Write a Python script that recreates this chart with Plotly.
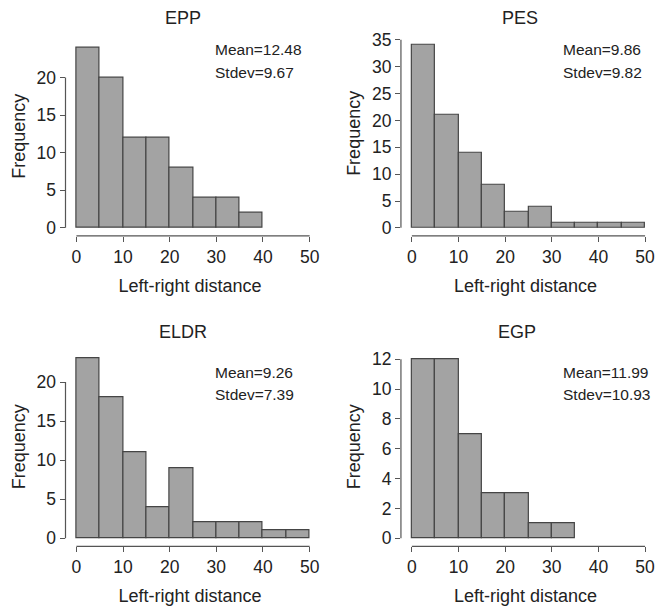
import plotly.graph_objects as go

W, H = 660, 608

bin_edges = [0, 5, 10, 15, 20, 25, 30, 35, 40, 45, 50]
titles = ["EPP", "PES", "ELDR", "EGP"]
counts_epp = [24, 20, 12, 12, 8, 4, 4, 2, 0, 0]
counts_pes = [34, 21, 14, 8, 3, 4, 1, 1, 1, 1]
counts_eldr = [23, 18, 11, 4, 9, 2, 2, 2, 1, 1]
counts_egp = [12, 12, 7, 3, 3, 1, 1, 0, 0, 0]
means = ["12.48", "9.86", "9.26", "11.99"]
stdevs = ["9.67", "9.82", "7.39", "10.93"]
yticks_epp = [0, 5, 10, 15, 20]
yticks_pes = [0, 5, 10, 15, 20, 25, 30, 35]
yticks_eldr = [0, 5, 10, 15, 20]
yticks_egp = [0, 2, 4, 6, 8, 10, 12]
xticks = [0, 10, 20, 30, 40, 50]

all_counts = [counts_epp, counts_pes, counts_eldr, counts_egp]
all_yticks = [yticks_epp, yticks_pes, yticks_eldr, yticks_egp]

# pixel geometry per panel: (px of x=0, px of x=50, py of y=0, py of top tick, L, R, T, B, annotation x, ann y1, ann y2, title x, title y)
geom = [
    (77, 312, 228, 77, 66, 317, 36, 236, 215, 49, 72, 184, 17),
    (415, 650, 228, 39, 404, 655, 30, 236, 565, 49, 72, 524, 17),
    (77, 312, 540, 383, 66, 317, 348, 548, 215, 373, 395, 184, 333),
    (415, 650, 540, 360, 404, 655, 348, 548, 565, 373, 395, 521, 333),
]

FONT = "Liberation Sans, Arial, sans-serif"
TXT = "#222222"
fig = go.Figure()
layout = dict(
    width=W, height=H, margin=dict(l=0, r=0, t=0, b=0),
    paper_bgcolor="white", plot_bgcolor="white", showlegend=False,
    font=dict(family=FONT, size=17, color=TXT),
)
shapes = []
annotations = []
for i in range(4):
    px0, px50, py0, pyt, L, R, T, B, ax_, ay1, ay2, tx, ty = geom[i]
    yt = all_yticks[i]
    sx = (px50 - px0) / 50.0
    sy = (py0 - pyt) / float(yt[-1])
    xr = [(L - px0) / sx, (R - px0) / sx]
    yr = [(py0 - B) / sy, (py0 - T) / sy]
    n = "" if i == 0 else str(i + 1)
    c = all_counts[i]
    xs = [(bin_edges[k] + bin_edges[k + 1]) / 2 for k in range(10) if c[k] > 0]
    ws = [bin_edges[k + 1] - bin_edges[k] for k in range(10) if c[k] > 0]
    ys = [c[k] for k in range(10) if c[k] > 0]
    fig.add_trace(go.Bar(
        x=xs, y=ys, width=ws, xaxis="x" + n, yaxis="y" + n,
        marker=dict(color="#a3a3a3", line=dict(color="#454545", width=1.2)),
        hoverinfo="x+y",
    ))
    layout["xaxis" + n] = dict(
        domain=[L / W, R / W], range=xr, anchor="y" + n,
        showgrid=False, zeroline=False, showline=False,
        tickmode="array", tickvals=xticks, ticktext=[str(v) for v in xticks],
        ticks="outside", ticklen=5, tickwidth=1.2, tickcolor="#555555",
        tickfont=dict(size=17.5, color=TXT),
        title=dict(text="Left-right distance", font=dict(size=18, color=TXT), standoff=13),
        fixedrange=True,
    )
    layout["yaxis" + n] = dict(
        domain=[1 - B / H, 1 - T / H], range=yr, anchor="x" + n,
        showgrid=False, zeroline=False, showline=False,
        tickmode="array", tickvals=yt, ticktext=[str(v) for v in yt],
        ticks="outside", ticklen=5, tickwidth=1.2, tickcolor="#555555",
        tickfont=dict(size=17.5, color=TXT),
        title=dict(text="Frequency", font=dict(size=18, color=TXT), standoff=6),
        fixedrange=True,
    )
    xd = "x" + n + " domain"
    yd = "y" + n + " domain"
    # detached R-style axis lines
    shapes.append(dict(type="line", xref=xd, yref="y" + n, x0=0, x1=0, y0=yt[0], y1=yt[-1],
                       line=dict(color="#555555", width=1.2)))
    shapes.append(dict(type="line", xref="x" + n, yref=yd, x0=xticks[0], x1=xticks[-1], y0=0, y1=0,
                       line=dict(color="#555555", width=1.2)))
    annotations.append(dict(text=titles[i], xref="paper", yref="paper", x=tx / W, y=1 - ty / H,
                            xanchor="center", yanchor="middle", showarrow=False,
                            font=dict(size=18, color=TXT)))
    annotations.append(dict(text="Mean=" + means[i], xref="paper", yref="paper", x=ax_ / W, y=1 - ay1 / H,
                            xanchor="left", yanchor="middle", showarrow=False,
                            font=dict(size=15.5, color=TXT)))
    annotations.append(dict(text="Stdev=" + stdevs[i], xref="paper", yref="paper", x=ax_ / W, y=1 - ay2 / H,
                            xanchor="left", yanchor="middle", showarrow=False,
                            font=dict(size=15.5, color=TXT)))

layout["shapes"] = shapes
layout["annotations"] = annotations
layout["bargap"] = 0
fig.update_layout(**layout)
fig.write_html("out.html", config={"displayModeBar": False},
               post_script="document.body.style.margin='0';document.body.style.overflow='hidden';")
